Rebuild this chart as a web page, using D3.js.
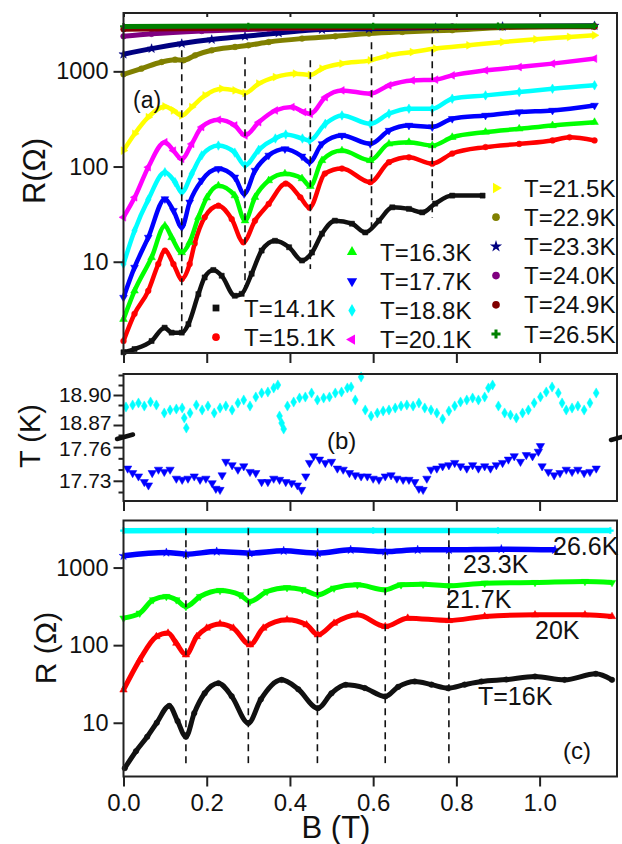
<!DOCTYPE html>
<html>
<head>
<meta charset="utf-8">
<script src="https://cdn.jsdelivr.net/npm/d3@7"></script>
<style>
  body { margin: 0; background: #fff; }
  text { font-family: "Liberation Sans", Arial, sans-serif; fill: #111; }
</style>
</head>
<body>
<div id="chart"></div>
<script>
// ---------- data ----------
// panel (a): R(Ohm) vs B(T) at several temperatures
const a141 = [[0,1.12],[0.0265,1.21],[0.0675,1.47],[0.0988,2.03],[0.1157,1.8],[0.14,1.8],[0.156,2.21],[0.18,4.57],[0.195,6.84],[0.216,8.19],[0.236,7.13],[0.2675,4.39],[0.284,4.6],[0.308,7.48],[0.332,13.1],[0.364,16.6],[0.398,14.2],[0.429,10.3],[0.453,12.5],[0.477,19.7],[0.508,27],[0.549,25.1],[0.581,20.3],[0.614,27],[0.646,37.3],[0.686,35.9],[0.718,33],[0.749,40.8],[0.79,49.5],[0.863,49.5]];
const a151 = [[0,1.47],[0.0265,2.84],[0.0595,4.95],[0.0836,9.46],[0.0995,13.1],[0.12,9.46],[0.14,6.58],[0.159,9.46],[0.171,15.5],[0.195,29.3],[0.228,38.8],[0.26,28.1],[0.288,16],[0.316,27],[0.349,40.5],[0.39,66.2],[0.425,47.5],[0.447,37],[0.484,84.4],[0.525,95.3],[0.593,68.4],[0.638,111],[0.686,125],[0.742,107],[0.79,137],[0.87,160],[0.951,173],[1.031,188],[1.072,203],[1.132,188]];
const a163 = [[0,2.49],[0.0265,4.95],[0.0675,11.1],[0.0995,23.9],[0.1157,18],[0.14,12.5],[0.159,16],[0.18,29.3],[0.2,47],[0.228,63],[0.2675,49.5],[0.292,27],[0.316,47.5],[0.349,71.3],[0.388,84],[0.429,74.8],[0.449,62],[0.477,116],[0.525,147],[0.593,116],[0.638,173],[0.686,180],[0.742,166],[0.79,203],[0.87,230],[0.951,249],[1.031,270],[1.132,292]];
const a177 = [[0,4.21],[0.0265,8.71],[0.0595,18],[0.0995,45.7],[0.12,34.4],[0.14,23],[0.159,42.1],[0.188,71.3],[0.228,94.6],[0.2675,77.1],[0.29,51.6],[0.316,90.8],[0.349,131],[0.388,153],[0.429,128],[0.447,111],[0.477,173],[0.525,212],[0.593,173],[0.638,239],[0.686,270],[0.742,260],[0.79,318],[0.87,344],[0.951,373],[1.031,388],[1.132,438]];
const a188 = [[0,9.46],[0.0265,21.2],[0.0595,45],[0.0995,87.1],[0.124,68.4],[0.14,53.6],[0.164,83.7],[0.188,131],[0.228,166],[0.2675,140],[0.292,103],[0.325,150],[0.365,197],[0.39,217],[0.43,197],[0.447,188],[0.485,281],[0.525,344],[0.593,281],[0.638,359],[0.686,405],[0.742,405],[0.79,516],[0.87,559],[0.951,606],[1.031,657],[1.132,713]];
const a201 = [[0,29.3],[0.027,47.5],[0.0595,98.4],[0.0995,180],[0.12,147],[0.14,120],[0.164,173],[0.188,260],[0.228,310],[0.2675,270],[0.292,212],[0.325,292],[0.365,388],[0.405,421],[0.433,373],[0.449,357],[0.485,535],[0.525,631],[0.593,582],[0.638,713],[0.694,803],[0.75,818],[0.79,907],[0.87,1024],[0.951,1110],[1.031,1205],[1.132,1360]];
const a215 = [[0,147],[0.027,221],[0.0595,330],[0.0995,428],[0.12,388],[0.14,344],[0.164,421],[0.196,559],[0.236,657],[0.268,631],[0.292,591],[0.325,743],[0.365,871],[0.413,946],[0.449,918],[0.477,1067],[0.525,1205],[0.593,1305],[0.638,1473],[0.694,1596],[0.75,1733],[0.83,1878],[0.911,2032],[0.991,2172],[1.072,2295],[1.132,2393]];
const a229 = [[0,930],[0.043,1067],[0.0916,1253],[0.124,1327],[0.144,1305],[0.172,1473],[0.212,1664],[0.268,1803],[0.3,1878],[0.349,2032],[0.429,2208],[0.509,2334],[0.59,2493],[0.67,2594],[0.79,2704],[0.911,2884],[1.132,2978]];
const a233 = [[0,1511],[0.0675,1733],[0.14,1958],[0.212,2158],[0.292,2334],[0.373,2529],[0.477,2748],[0.59,2800],[0.75,2884],[0.911,2958],[1.132,3016]];
const a240 = [[0,2334],[0.0675,2477],[0.188,2655],[0.349,2798],[0.549,2904],[0.79,2958],[1.132,2978]];
const a249 = [[0,2767],[0.43,2872],[0.8,2920],[1.132,2939]];
const a265 = [[0,2960],[0.3,2985],[0.6,2990],[0.9,2995],[1.132,3000]];
const labelsA = ["T=14.1K","T=15.1K","T=16.3K","T=17.7K","T=18.8K","T=20.1K","T=21.5K","T=22.9K","T=23.3K","T=24.0K","T=24.9K","T=26.5K"];
const dashAB = [0.14, 0.292, 0.449, 0.596, 0.742];
const dashATop = [1664, 1403, 1305, 2018, 2280];
const dashABot = [1.58, 4.4, 8.4, 19.7, 29];

// panel (b): sample temperature during the sweeps
const b188 = [[0.006,18.888],[0.022,18.890],[0.036,18.892],[0.050,18.889],[0.065,18.893],[0.079,18.890],[0.098,18.882],[0.112,18.885],[0.127,18.886],[0.141,18.887],[0.146,18.877],[0.151,18.867],[0.160,18.882],[0.175,18.890],[0.189,18.885],[0.203,18.889],[0.218,18.882],[0.232,18.887],[0.246,18.889],[0.261,18.885],[0.275,18.892],[0.289,18.895],[0.304,18.889],[0.318,18.898],[0.332,18.902],[0.347,18.903],[0.361,18.907],[0.371,18.910],[0.375,18.879],[0.380,18.872],[0.385,18.866],[0.394,18.889],[0.409,18.893],[0.423,18.897],[0.437,18.898],[0.452,18.902],[0.466,18.895],[0.481,18.897],[0.495,18.898],[0.509,18.902],[0.524,18.903],[0.538,18.907],[0.547,18.908],[0.557,18.895],[0.571,18.918],[0.581,18.885],[0.595,18.879],[0.610,18.882],[0.624,18.884],[0.638,18.885],[0.653,18.887],[0.667,18.889],[0.681,18.890],[0.696,18.889],[0.710,18.892],[0.724,18.887],[0.739,18.885],[0.753,18.882],[0.767,18.876],[0.782,18.884],[0.796,18.889],[0.810,18.893],[0.825,18.895],[0.839,18.897],[0.853,18.895],[0.868,18.898],[0.877,18.907],[0.887,18.910],[0.901,18.889],[0.916,18.882],[0.930,18.880],[0.944,18.877],[0.959,18.882],[0.973,18.885],[0.987,18.892],[1.002,18.898],[1.016,18.903],[1.030,18.908],[1.045,18.902],[1.054,18.892],[1.064,18.885],[1.078,18.887],[1.092,18.889],[1.107,18.885],[1.121,18.892],[1.136,18.902]];
const b177 = [[0.010,17.741],[0.022,17.737],[0.036,17.734],[0.050,17.729],[0.060,17.726],[0.069,17.737],[0.084,17.740],[0.098,17.738],[0.112,17.740],[0.127,17.732],[0.141,17.731],[0.155,17.732],[0.170,17.734],[0.184,17.731],[0.198,17.732],[0.213,17.728],[0.222,17.723],[0.232,17.722],[0.237,17.735],[0.246,17.747],[0.261,17.744],[0.275,17.740],[0.289,17.743],[0.304,17.738],[0.318,17.737],[0.332,17.729],[0.347,17.729],[0.361,17.732],[0.375,17.731],[0.390,17.729],[0.404,17.728],[0.418,17.726],[0.428,17.722],[0.438,17.734],[0.447,17.746],[0.457,17.752],[0.471,17.749],[0.485,17.746],[0.500,17.747],[0.514,17.741],[0.528,17.740],[0.543,17.737],[0.557,17.735],[0.571,17.734],[0.586,17.734],[0.600,17.732],[0.614,17.731],[0.629,17.734],[0.643,17.735],[0.657,17.732],[0.672,17.731],[0.686,17.731],[0.700,17.729],[0.710,17.723],[0.720,17.722],[0.729,17.732],[0.739,17.740],[0.753,17.741],[0.767,17.743],[0.782,17.744],[0.796,17.746],[0.810,17.743],[0.825,17.741],[0.839,17.744],[0.853,17.741],[0.868,17.743],[0.882,17.741],[0.896,17.744],[0.911,17.746],[0.925,17.749],[0.939,17.752],[0.954,17.747],[0.968,17.753],[0.983,17.752],[0.997,17.756],[1.002,17.761],[1.006,17.743],[1.021,17.738],[1.035,17.735],[1.049,17.737],[1.064,17.740],[1.078,17.738],[1.092,17.740],[1.107,17.737],[1.121,17.738],[1.136,17.741]];

// panel (c): R(Ohm) vs B(T), second set of temperatures
const c266 = [[0,2990],[0.3,3000],[0.6,3000],[0.9,3000],[1.17,3000]];
const c233 = [[0,1416],[0.103,1560],[0.15,1489],[0.224,1607],[0.303,1534],[0.385,1641],[0.467,1534],[0.546,1690],[0.629,1607],[0.707,1690],[0.782,1690],[0.908,1726],[1.037,1690]];
const c217 = [[0,223],[0.039,258],[0.071,384],[0.103,423],[0.127,384],[0.15,314],[0.184,423],[0.232,506],[0.28,445],[0.304,365],[0.345,491],[0.393,550],[0.43,520],[0.467,445],[0.506,543],[0.562,599],[0.629,516],[0.667,599],[0.72,610],[0.782,581],[0.868,630],[0.989,641],[1.109,661],[1.174,641]];
const c20 = [[0,26.5],[0.039,64.7],[0.079,129],[0.107,143],[0.127,106],[0.15,75],[0.176,129],[0.2,166],[0.232,188],[0.264,166],[0.304,101],[0.336,166],[0.393,212],[0.44,183],[0.467,136],[0.506,192],[0.562,246],[0.629,174],[0.683,223],[0.782,208],[0.868,234],[0.989,246],[1.109,246],[1.174,234]];
const c16 = [[0.003,2.6],[0.03,4.3],[0.057,6.6],[0.08,10],[0.11,16.5],[0.13,10.5],[0.15,6.6],[0.17,13.3],[0.195,24],[0.228,32.4],[0.26,22],[0.3,9.9],[0.33,20],[0.38,35.7],[0.42,27],[0.467,15.4],[0.5,24],[0.534,30.8],[0.58,28],[0.629,21.8],[0.66,29],[0.7,34],[0.74,31],[0.78,27.9],[0.82,31],[0.86,34],[0.92,36],[0.989,39.4],[1.06,35.7],[1.135,42.7],[1.174,35.7]];
const labelsC = ["26.6K","23.3K","21.7K","20K","T=16K"];
const dashCB = [0.15, 0.30, 0.466, 0.629, 0.782];

// ticks
const bTicks = [0, 0.2, 0.4, 0.6, 0.8, 1.0];
const rTicks = [10, 100, 1000];
const tUpMajor = [18.87, 18.90], tUpMinor = [18.86, 18.88, 18.89, 18.91, 18.92];
const tLoMajor = [17.73, 17.76], tLoMinor = [17.72, 17.74, 17.75];

// ---------- styles ----------
const colA = ["#111","#ff0000","#00ff00","#0000ff","#00ffff","#ff00ff","#ffff00","#808000","#000080","#800080","#800000","#008000"];
const symA = [d3.symbolSquare, d3.symbolCircle, d3.symbolTriangle, d3.symbolTriangle, d3.symbolDiamond, d3.symbolTriangle,
              d3.symbolTriangle, d3.symbolCircle, d3.symbolStar, d3.symbolCircle, d3.symbolCircle, d3.symbolCross];
const rotA = [0, 0, 0, 180, 0, -90, 90, 0, 0, 0, 0, 0];
const colC = ["#00ffff","#0000ff","#00ff00","#ff0000","#111"];
const symC = [d3.symbolCross, d3.symbolStar, d3.symbolTriangle, d3.symbolTriangle, d3.symbolCircle];
const rotC = [0, 0, 180, 0, 0];

const W = 622, H = 844;
const svg = d3.select("#chart").append("svg").attr("width", W).attr("height", H);

const x = d3.scaleLinear().domain([0, 1.186]).range([123.5, 617]);
const yA = d3.scaleLog().domain([1.1, 4100]).range([353, 13]);
const yB1 = d3.scaleLinear().domain([18.858, 18.921]).range([437, 374]);
const yB2 = d3.scaleLinear().domain([17.712, 17.769]).range([501, 437]);
const yC = d3.scaleLog().domain([2.03, 4040]).range([776.5, 520.5]);

function styleAxis(g, fs) {
  g.select(".domain").remove();
  g.selectAll(".tick line").attr("stroke", "#222").attr("stroke-width", 2);
  g.selectAll(".tick text").attr("font-size", fs).attr("fill", "#222")
    .attr("font-family", '"Liberation Sans", Arial, sans-serif');
}

function frame(y0, y1) {
  svg.append("rect").attr("x", x.range()[0]).attr("y", y0)
    .attr("width", x.range()[1] - x.range()[0]).attr("height", y1 - y0)
    .attr("fill", "none").attr("stroke", "#222").attr("stroke-width", 2);
}

function series(data, ys, color, sym, rot, lw, size) {
  if (lw > 0) {
    const line = d3.line().x(d => x(d[0])).y(d => ys(d[1])).curve(d3.curveMonotoneX);
    svg.append("path").datum(data).attr("d", line)
      .attr("fill", "none").attr("stroke", color).attr("stroke-width", lw).attr("stroke-linejoin", "round");
  }
  svg.append("g").selectAll("path").data(data).join("path")
    .attr("d", d3.symbol().type(sym).size(size))
    .attr("transform", d => `translate(${x(d[0])},${ys(d[1])}) rotate(${rot})`)
    .attr("fill", color).attr("stroke", sym === d3.symbolCross ? "none" : color).attr("stroke-width", 0.5);
}

function vdash(b, ys, r0, r1) {
  svg.append("line").attr("x1", x(b)).attr("x2", x(b)).attr("y1", ys(r0)).attr("y2", ys(r1))
    .attr("stroke", "#111").attr("stroke-width", 1.6).attr("stroke-dasharray", "7,5");
}

// ---------- panel (a) ----------
const seriesA = [a141, a151, a163, a177, a188, a201, a215, a229, a233, a240, a249, a265];
seriesA.forEach((s, i) => series(s, yA, colA[i], symA[i], rotA[i], i >= 7 ? 5 : 4.5, 26));
dashAB.forEach((b, i) => vdash(b, yA, dashATop[i], dashABot[i]));

svg.append("g").attr("transform", `translate(${x.range()[0]},0)`)
  .call(d3.axisLeft(yA).tickValues(rTicks).tickFormat(d3.format("d")).tickSize(10).tickPadding(5))
  .call(g => styleAxis(g, 23.5));
svg.append("g").attr("transform", "translate(0,353)")
  .call(d3.axisBottom(x).tickValues(bTicks).tickFormat("").tickSize(10))
  .call(g => styleAxis(g, 23));
svg.append("g").attr("transform", "translate(0,13)")
  .call(d3.axisTop(x).tickValues(bTicks).tickFormat("").tickSize(-4))
  .call(g => styleAxis(g, 23));
frame(13, 353);

// legend (a)
const legCols = [{x: 216, y: 308, items: [0, 1]}, {x: 352, y: 252, items: [2, 3, 4, 5]}, {x: 496, y: 188, items: [6, 7, 8, 9, 10, 11]}];
legCols.forEach(c => c.items.forEach((k, j) => {
  const cy = c.y + j * 29.2;
  svg.append("path").attr("d", d3.symbol().type(symA[k]).size(46)())
    .attr("transform", `translate(${c.x},${cy}) rotate(${rotA[k]})`).attr("fill", colA[k]);
  svg.append("text").attr("x", c.x + 28).attr("y", cy + 8.5).attr("font-size", 24).text(labelsA[k]);
}));
svg.append("text").attr("x", 133).attr("y", 108).attr("font-size", 23).text("(a)");
svg.append("text").attr("transform", "translate(45,171) rotate(-90)").attr("text-anchor", "middle")
  .attr("font-size", 31).text("R(Ω)");

// ---------- panel (b) ----------
series(b188, yB1, "#00ffff", d3.symbolDiamond, 0, 0, 30);
series(b177, yB2, "#0000ff", d3.symbolTriangle, 180, 0, 30);
// labels next to the break are nudged apart a little so they do not collide
[[yB1, tUpMajor, tUpMinor, [-2, 0]], [yB2, tLoMajor, tLoMinor, [0, 2]]].forEach(([ys, maj, min, nudge]) => {
  svg.append("g").attr("transform", `translate(${x.range()[0]},0)`)
    .call(d3.axisLeft(ys).tickValues(maj).tickFormat(d3.format(".2f")).tickSize(10).tickPadding(2))
    .call(g => styleAxis(g, 21))
    .call(g => g.selectAll(".tick text").attr("y", (d, i) => nudge[i]));
  svg.append("g").attr("transform", `translate(${x.range()[0]},0)`)
    .call(d3.axisLeft(ys).tickValues(min).tickFormat("").tickSize(5))
    .call(g => styleAxis(g, 21));
});
svg.append("g").attr("transform", "translate(0,501)")
  .call(d3.axisBottom(x).tickValues(bTicks).tickFormat("").tickSize(10))
  .call(g => styleAxis(g, 23));
frame(374, 501);
// axis break marks
svg.append("line").attr("x1", 117).attr("y1", 439).attr("x2", 133).attr("y2", 434.5)
  .attr("stroke", "#111").attr("stroke-width", 4.5).attr("stroke-linecap", "round");
svg.append("line").attr("x1", 611).attr("y1", 440).attr("x2", 622).attr("y2", 437)
  .attr("stroke", "#111").attr("stroke-width", 4.5).attr("stroke-linecap", "round");
svg.append("text").attr("x", 327).attr("y", 449).attr("font-size", 24).text("(b)");
svg.append("text").attr("transform", "translate(40,436) rotate(-90)").attr("text-anchor", "middle")
  .attr("font-size", 29).text("T (K)");

// ---------- panel (c) ----------
const seriesC = [c266, c233, c217, c20, c16];
seriesC.forEach((s, i) => series(s, yC, colC[i], symC[i], rotC[i], i < 2 ? 5.5 : 5, 24));
dashCB.forEach(b => vdash(b, yC, 3221, 2.87));

svg.append("g").attr("transform", `translate(${x.range()[0]},0)`)
  .call(d3.axisLeft(yC).tickValues(rTicks).tickFormat(d3.format("d")).tickSize(10).tickPadding(5))
  .call(g => styleAxis(g, 23.5));
svg.append("g").attr("transform", "translate(0,776.5)")
  .call(d3.axisBottom(x).tickValues(bTicks).tickFormat(d3.format(".1f")).tickSize(10).tickPadding(7))
  .call(g => styleAxis(g, 24));
frame(520.5, 776.5);

const labCPos = [[553, 555], [463, 573], [446, 608], [535, 639], [478, 705]];
labelsC.forEach((t, i) => svg.append("text").attr("x", labCPos[i][0]).attr("y", labCPos[i][1])
  .attr("font-size", 25).text(t));
svg.append("text").attr("x", 563).attr("y", 759).attr("font-size", 24).text("(c)");
svg.append("text").attr("transform", "translate(56,648) rotate(-90)").attr("text-anchor", "middle")
  .attr("font-size", 30).text("R (Ω)");
svg.append("text").attr("x", 336).attr("y", 838).attr("text-anchor", "middle")
  .attr("font-size", 31).text("B (T)");
</script>
</body>
</html>
